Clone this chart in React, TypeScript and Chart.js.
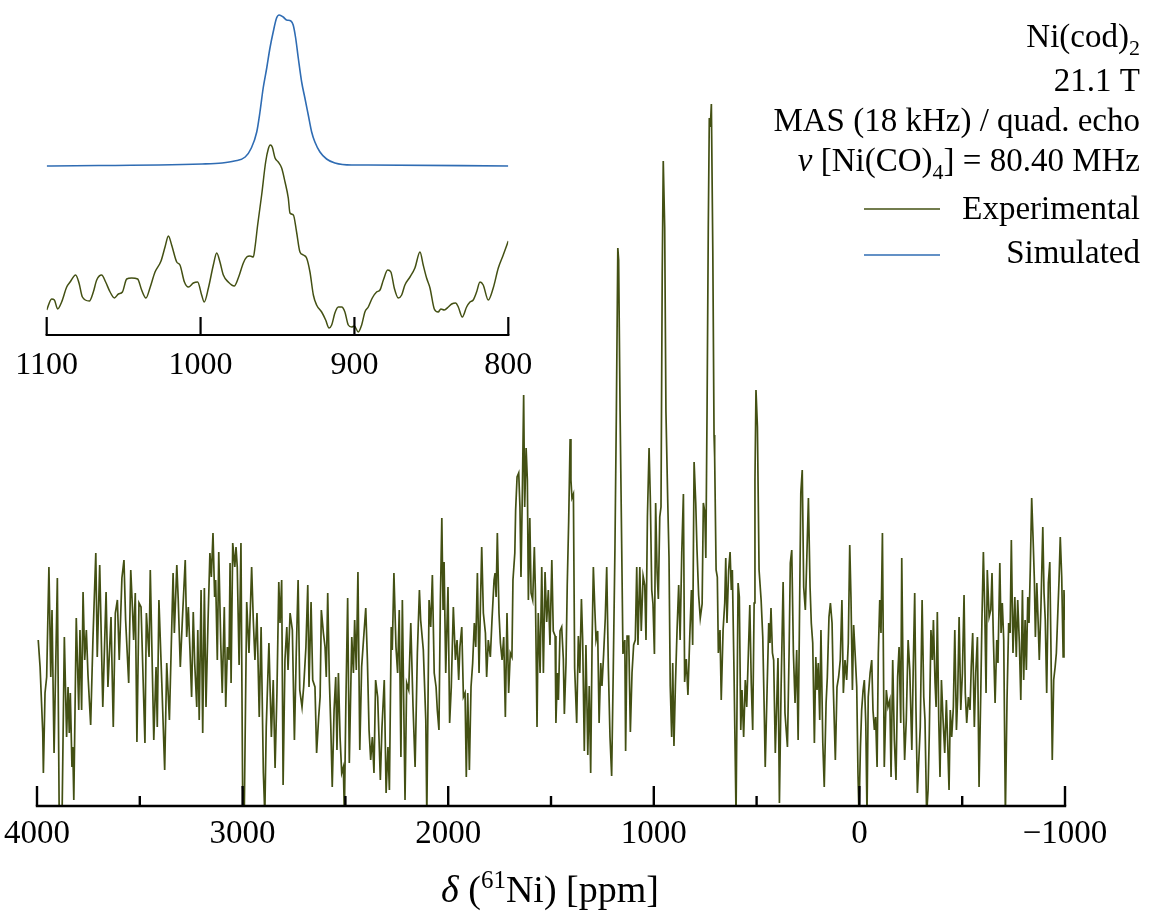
import React, { useEffect, useRef } from 'react';
import Chart from 'chart.js/auto';

const SERIF = '"Liberation Serif", "Times New Roman", Times, serif';

// Main spectrum: chemical shift (ppm) and intensity (a.u.)
const expPpm = [
  3994, 3985, 3972, 3969, 3961, 3953, 3942, 3933, 3927, 3917, 3911, 3901, 3892, 3878, 3867, 3856, 3849, 3843, 3838, 3830,
  3826, 3821, 3809, 3797, 3791, 3783, 3776, 3768, 3760, 3752, 3739, 3728, 3714, 3707, 3695, 3680, 3664, 3655, 3640, 3629,
  3619, 3609, 3600, 3587, 3577, 3569, 3554, 3544, 3536, 3530, 3522, 3514, 3504, 3494, 3475, 3468, 3455, 3449, 3439, 3432,
  3421, 3415, 3407, 3393, 3379, 3369, 3356, 3338, 3332, 3320, 3313, 3303, 3293, 3279, 3272, 3264, 3256, 3248, 3240, 3233,
  3223, 3218, 3211, 3202, 3194, 3186,
  3178, 3168, 3159, 3152, 3144, 3136, 3131, 3123, 3116, 3106, 3099, 3089, 3082, 3074, 3066, 3061, 3056, 3048, 3038, 3032,
  3026, 3017, 3008, 3000, 2992, 2980, 2969, 2956, 2948, 2940, 2930, 2919, 2910, 2899, 2892, 2885, 2872, 2860, 2851, 2842,
  2833, 2824, 2818, 2810, 2803, 2794, 2785, 2779, 2769, 2758, 2748, 2739, 2730, 2722, 2711, 2703, 2692, 2683, 2677, 2667,
  2659, 2648, 2640, 2630, 2623, 2617, 2607, 2599, 2593, 2586, 2578, 2571, 2564, 2555, 2547, 2541, 2534, 2526, 2518, 2510,
  2505, 2498, 2489, 2481, 2469, 2461, 2455, 2447, 2439, 2430, 2421, 2413, 2401, 2393, 2385, 2377, 2369, 2361, 2353, 2343,
  2330, 2322, 2311, 2302, 2293, 2286, 2277, 2272, 2264, 2254, 2246, 2238, 2230, 2223, 2210, 2202, 2192, 2182, 2171, 2161,
  2150, 2140, 2134, 2121, 2109, 2104, 2093, 2085, 2077, 2068, 2059, 2053, 2045, 2038, 2031, 2025, 2020, 2012, 2001, 1993,
  1985, 1975, 1965, 1957, 1949, 1943, 1934, 1926, 1918, 1912, 1905, 1897, 1889, 1881, 1873, 1866, 1858, 1850, 1844, 1837,
  1829, 1819, 1813, 1805, 1795, 1787, 1777, 1772, 1767, 1761, 1753, 1746, 1738, 1730, 1722, 1714, 1706, 1698, 1690, 1685,
  1676, 1672, 1665, 1657, 1651, 1646, 1639, 1633, 1628, 1621, 1615, 1610, 1603, 1597, 1589, 1581, 1576, 1568, 1562, 1553,
  1545, 1537, 1529, 1521, 1513, 1505, 1496, 1489, 1480, 1476, 1469, 1464, 1456, 1448, 1440, 1435, 1427, 1421, 1414, 1407,
  1403, 1398, 1391, 1385, 1375, 1367, 1360, 1352, 1346, 1338, 1330, 1321, 1314, 1307, 1300, 1294, 1287, 1281, 1273, 1266,
  1258, 1252, 1244, 1236, 1229, 1221, 1213, 1205, 1197, 1189, 1182, 1175, 1171, 1164, 1156, 1150, 1141, 1137, 1130, 1122,
  1114, 1106, 1098, 1090, 1083, 1077, 1068, 1061, 1052, 1044, 1038, 1031, 1023, 1017, 1010, 1004, 997, 991, 984, 978,
  971, 965, 959, 954, 947, 941, 932, 926, 920, 913, 908, 902, 895, 887, 879, 872, 864, 856, 850, 842,
  834, 825, 817, 811, 804, 796, 790, 782, 774, 765, 759, 752, 747, 741, 735, 730, 725, 720, 713, 707,
  704, 697, 691, 686, 678, 672, 663, 655, 650, 644, 636, 629, 623, 618, 610, 600, 590, 584, 577, 571,
  563, 555, 548, 540, 533, 526, 519, 512, 508, 503, 496, 488, 478, 470, 462, 458, 449, 441, 435, 430,
  423, 417, 409, 402, 396, 389, 381, 371, 362, 350, 342, 336, 329, 321, 313, 305, 298, 292, 285, 278,
  271, 263, 256, 248, 240, 234, 227, 219, 212, 206, 200, 193, 187, 178, 171, 162, 156, 148, 141, 133,
  127, 117, 109, 101, 93, 85, 78, 70, 62, 54, 47, 41, 34, 28, 20, 13, 7, 2, -5, -11,
  -18, -24, -31, -37, -43, -52, -60, -66, -73, -79, -86, -92, -99, -105, -112,
  -121, -131, -139, -148, -154, -162, -170, -178, -186, -193, -201, -206, -214, -220, -228, -237, -245, -255, -262, -269,
  -275, -282, -289, -296, -305, -313, -319, -327, -334, -340, -348, -355, -360, -368, -373, -379, -386, -392, -399, -407,
  -415, -423, -430, -436, -442, -449, -457, -464, -472, -478, -485, -493, -501, -509, -515, -522, -530, -538, -544, -551,
  -559, -566, -574, -582, -590, -596, -603, -610, -616, -622, -631, -639, -645, -651, -660, -668, -674, -683, -689, -695,
  -702, -710, -718, -726, -733, -739, -747, -756, -763, -770, -778, -785, -793, -799, -806, -812, -819, -825, -831, -838,
  -845, -851, -856, -863, -869, -875, -883, -892, -898, -904, -911, -919, -926, -932, -938, -945, -952, -958, -965, -971,
  -977, -984, -991, -995, -1000,
];
const expIntensity = [
  165, 138, 72, 32, 112, 128, 238, 128, 195, 52, 118, 227, -10, -10, 168, 68, 118, 72, 112, 38,
  58, 5, 187, 95, 175, 95, 213, 145, 175, 130, 80, 165, 252, 148, 240, 98, 213, 118, 188, 78,
  192, 205, 145, 227, 245, 185, 122, 235, 198, 165, 212, 63, 202, 198, 62, 192, 148, 235, 135, 65,
  138, 78, 205, 122, 35, 142, 85, 232, 172, 240, 205, 138, 185, 245, 168, 198, 155, 108, 193, 142,
  98, 175, 85, 215, 72, 217,
  98, 185, 252, 228, 272, 208, 225, 145, 253, 160, 112, 198, 98, 158, 145, 242, 122, 262, 238, 258,
  238, 140, 262, 18, -10, 203, 152, 238, 185, 145, 192, 88, 178, 32, -10, 78, 162, 68, 125, 37,
  112, 223, 182, 225, 20, 145, 178, 135, 192, 175, 65, 152, 225, 115, 98, 118, 158, 220, 118, 203,
  125, 118, 52, 88, 108, 195, 172, 158, 128, 212, 125, 78, 18, 95, 128, 55, 132, 68, 32, 38,
  -10, 98, 207, 42, 168, 132, 185, 135, 233, 55, 138, 162, 197, 145, 75, 45, 68, 32, 125, 108,
  25, 78, 125, 12, 58, 15, 178, 155, 232, 158, 132, 195, 48, 205, 5, 122, 115, 182, 98, 38,
  152, 215, 185, 155, 85, -10, 205, 178, 230, 132, 118, 95, 75, 205, 287, 195, 243, 132, 218, 82,
  118, 198, 145, 165, 125, 158, 178, 108, 112, 28, 112, 35, 118, 142, 182, 158, 232, 132, 192, 258,
  192, 172, 128, 165, 148, 185, 225, 232, 208, 272, 192, 162, 145, 168, 88, 192, 112, 152, 148, 225,
  252, 295, 328, 332, 298, 228, 318, 410, 298, 357, 325, 205, 287, 212, 205, 258, 215, 78, 192, 132,
  238, 132, 233, 183, 215, 160, 245, 174, 169, 82, 132, 105, 174, 178, 146, 91, 142, 220, 284, 366,
  325, 307, 311, 137, 82, 169, 132, 206, 165, 54, 160, 50, 119, 32, 165, 238, 197, 165, 174, 82,
  142, 119, 151, 187, 238, 137, 68, 29, 137, 256, 394, 557, 545, 394, 256, 151, 165, 54, 169, 169,
  73, 132, 160, 165, 238, 160, 238, 174, 229, 220, 165, 288, 357, 307, 215, 201, 151, 302, 233, 206,
  288, 298, 532, 644, 577, 394, 302, 247, 119, 68, 142, 59, 119, 174, 220, 165, 252, 311, 123, 146,
  110, 169, 215, 160, 343, 302, 256, 210, 187, 201, 302, 293, 247, 394, 577, 687, 678, 701, 554, 370,
  348, 235, 228, 152, 175, 105, 175, 202, 247, 182, 235, 253, 215, 235, 135, -10, 222, 208, 75, 115,
  68, 125, 98, 152, 200, 122, 75, 202, 325, 415, 378, 235, 205, 168, 85, 38, 115, 182, 162, 197,
  152, 145, 52, 102, 147, 2, 115, 223, 92, 58, 152, 242, 255, 152, 102, 155, 65, 175, 312, 335,
  218, 195, 245, 307, 218, 182, 162, 62, 148, 115, 142, 85, 175, 62, 18, 102, 128, 188, 202, 182,
  118, 45, 118, 128, 145, 205, 112, 145, 125, 162, 260, 208, 115, 180, 148, 118, 32, -10, 58, 95,
  115, 125, 82, -10, 108, 132, 145, 95, 75, 88, 38, 152, 205, 172, 272,
  38, 115, 98, 105, 28, 145, 65, 25, 128, 158, 82, 247, 98, 45, 85, 165, 135, 55, 138, 212,
  98, 12, 45, 78, 205, 108, 85, -10, 15, 72, 175, 145, 185, 122, 98, 193, 85, 28, 125, 85,
  52, 105, 58, 15, 95, 68, 98, 175, 75, 108, 188, 95, 132, 210, 112, 82, 108, 95, 138, 172,
  78, 132, 168, 18, 108, 185, 253, 192, 112, 235, 188, 195, 232, 172, 102, 165, 142, 242, 172, 202,
  165, -10, 105, 182, 172, 265, 152, 208, 148, 205, 162, 105, 215, 125, 185, 135, 208, 182, 235, 307,
  265, 225, 168, 222, 185, 145, 198, 278, 212, 185, 112, 222, 243, 152, 45, 125, 138, 152, 192, 225,
  268, 228, 148, 215, 185,
];

// Inset (800–1100 ppm): experimental and simulated
const insetExpPpm = [
  1100, 1096.8, 1095, 1092.9, 1090.3, 1087, 1084.8, 1081.2, 1079, 1076.8, 1072.3, 1069.7, 1067.5, 1064.3, 1061.7,
  1058.8, 1056, 1053.4, 1050.8, 1048, 1044.8, 1040.9, 1038.3, 1035.5, 1032.9, 1029.6, 1025.7, 1023.1, 1020.9, 1018.8,
  1015.5, 1013.4, 1010.5, 1007.9, 1004.7, 1001.9, 999.3, 997.6, 994.9, 991.7, 989.5, 987.4, 985.2, 982, 978.1,
  975.5, 972.2, 970, 967.9, 965.7, 964.6, 962.9, 960.3, 957.7, 956, 954.7, 953.4, 951.6, 949.5, 947.3,
  945.1, 943, 941.9, 939.7, 937.6, 935.4, 933.2, 931.1, 928.9, 926.7, 924.6, 921.3, 918.7, 916.5, 914.8,
  912.7, 910.5, 908.3, 906.2, 904, 901.8, 900.1, 897.5, 895.3, 893.2, 891, 888.4, 885.6, 883.4, 881.2,
  878.4, 876.3, 874.1, 871.5, 869.3, 867.2, 863.9, 860.7, 857.4, 855.3, 853.1, 850.9, 848.1, 845.6, 843.8,
  841.6, 839, 836.8, 834.2, 832.5, 829.9, 827.1, 824.9, 822.8, 820.6, 818.4, 816.3, 813, 809.8, 806.5,
  803.3, 800,
];
const insetExpIntensity = [
  25, 36, 35, 26, 33, 48, 53, 60, 52, 38, 34, 43, 55, 60, 53,
  43, 37, 41, 43, 56, 57, 56, 45, 37, 47, 63, 74, 88, 99, 90,
  73, 70, 53, 48, 52, 53, 40, 33, 47, 70, 82, 73, 60, 53, 49,
  57, 72, 78, 79, 78, 88, 110, 140, 173, 186, 190, 188, 177, 173, 167,
  153, 137, 122, 120, 103, 83, 80, 77, 63, 40, 30, 23, 15, 7, 10,
  22, 28, 28, 23, 10, 8, 9, 3, 10, 23, 28, 37, 43, 45, 55,
  65, 63, 47, 37, 40, 50, 58, 67, 83, 70, 57, 47, 26, 23, 26,
  25, 28, 31, 32, 28, 18, 28, 33, 35, 43, 53, 50, 35, 47, 67,
  80, 94,
];
const simPpm = [
  1100, 999, 986, 978, 971, 967, 963.5, 961.4, 959.3, 957, 954.9, 952.8, 950.6, 948.9, 946.3,
  944.1, 941.3, 939.8, 938.2, 936.5, 934.3, 932.2, 930, 927.8, 925.7, 922.4, 918.1, 912.7, 901.8, 891, 800,
];
const simIntensity = [
  169, 171, 172, 174, 178, 187, 203, 223, 247, 267, 287, 303, 317, 320, 318,
  315, 314, 310, 297, 277, 253, 237, 220, 203, 193, 183, 176, 172, 170, 170, 169,
];

const mainTickValues = [4000, 3000, 2000, 1000, 0, -1000];
const mainMinorTicks = [3500, 2500, 1500, 500, -500];
const insetTickValues = [1100, 1000, 900, 800];

const seriesLabels = ['Experimental', 'Simulated'];
const seriesColors = ['#435013', '#2f6cb3'];

type Seg = { text: string; size: number; italic?: boolean; dy?: number };

const infoLines: Seg[][] = [
  [{ text: 'Ni(cod)', size: 33 }, { text: '2', size: 22, dy: 8 }],
  [{ text: '21.1 T', size: 33 }],
  [{ text: 'MAS (18 kHz) / quad. echo', size: 33 }],
  [
    { text: 'ν', size: 33, italic: true },
    { text: ' [Ni(CO)', size: 33 },
    { text: '4', size: 22, dy: 8 },
    { text: '] = 80.40 MHz', size: 33 },
  ],
];
const axisTitle: Seg[] = [
  { text: 'δ', size: 38, italic: true },
  { text: ' (', size: 38 },
  { text: '61', size: 25, dy: -14 },
  { text: 'Ni) [ppm]', size: 38 },
];

function fontOf(s: Seg) {
  return `${s.italic ? 'italic ' : ''}${s.size}px ${SERIF}`;
}

function drawRich(ctx: CanvasRenderingContext2D, segs: Seg[], x: number, y: number, align: 'right' | 'center') {
  let total = 0;
  const widths: number[] = [];
  for (const s of segs) {
    ctx.font = fontOf(s);
    const w = ctx.measureText(s.text).width;
    widths.push(w);
    total += w;
  }
  let cx = align === 'right' ? x - total : x - total / 2;
  ctx.textAlign = 'left';
  ctx.textBaseline = 'alphabetic';
  segs.forEach((s, i) => {
    ctx.font = fontOf(s);
    ctx.fillText(s.text, cx, y + (s.dy || 0));
    cx += widths[i];
  });
}

function fmtTick(v: number) {
  return v < 0 ? '\u2212' + Math.abs(v) : String(v);
}

const mainDecor = {
  id: 'mainDecor',
  afterDatasetsDraw(chart: any) {
    const { ctx, chartArea } = chart;
    const x = chart.scales.x;
    const yA = chartArea.bottom + 1;
    ctx.save();
    ctx.strokeStyle = '#000';
    ctx.lineWidth = 2.4;
    ctx.beginPath();
    ctx.moveTo(x.getPixelForValue(4000) - 1.2, yA);
    ctx.lineTo(x.getPixelForValue(-1000) + 1.2, yA);
    ctx.stroke();
    for (const v of mainTickValues) {
      const px = x.getPixelForValue(v);
      ctx.beginPath();
      ctx.moveTo(px, yA);
      ctx.lineTo(px, yA - 20);
      ctx.stroke();
    }
    for (const v of mainMinorTicks) {
      const px = x.getPixelForValue(v);
      ctx.beginPath();
      ctx.moveTo(px, yA);
      ctx.lineTo(px, yA - 10);
      ctx.stroke();
    }
    ctx.restore();
  },
  afterDraw(chart: any) {
    const { ctx } = chart;
    ctx.save();
    ctx.fillStyle = '#000';
    const baselines = [47, 91, 131, 171];
    infoLines.forEach((segs, i) => drawRich(ctx, segs, 1140, baselines[i], 'right'));
    const legY = [209, 255];
    const legText = [219, 263];
    seriesLabels.forEach((lab, i) => {
      ctx.strokeStyle = seriesColors[i];
      ctx.lineWidth = 1.5;
      ctx.beginPath();
      ctx.moveTo(864, legY[i]);
      ctx.lineTo(940, legY[i]);
      ctx.stroke();
      ctx.fillStyle = '#000';
      drawRich(ctx, [{ text: lab, size: 33 }], 1140, legText[i], 'right');
    });
    drawRich(ctx, axisTitle, 550, 902, 'center');
    ctx.restore();
  },
};

const insetDecor = {
  id: 'insetDecor',
  afterDatasetsDraw(chart: any) {
    const { ctx, chartArea } = chart;
    const x = chart.scales.x;
    const yA = chartArea.bottom;
    ctx.save();
    ctx.strokeStyle = '#000';
    ctx.lineWidth = 2.2;
    ctx.beginPath();
    ctx.moveTo(x.getPixelForValue(1100) - 1.1, yA);
    ctx.lineTo(x.getPixelForValue(800) + 1.1, yA);
    ctx.stroke();
    for (const v of insetTickValues) {
      const px = x.getPixelForValue(v);
      ctx.beginPath();
      ctx.moveTo(px, yA);
      ctx.lineTo(px, yA - 18);
      ctx.stroke();
    }
    ctx.restore();
  },
};

export default function App() {
  const mainRef = useRef<HTMLCanvasElement>(null);
  const insetRef = useRef<HTMLCanvasElement>(null);

  useEffect(() => {
    const main = new Chart(mainRef.current as HTMLCanvasElement, {
      type: 'line',
      data: {
        datasets: [
          {
            label: seriesLabels[0],
            data: expPpm.map((p, i) => ({ x: p, y: expIntensity[i] })),
            borderColor: seriesColors[0],
            borderWidth: 1.7,
            pointRadius: 0,
            tension: 0,
            fill: false,
          },
        ],
      },
      options: {
        animation: false,
        responsive: false,
        devicePixelRatio: 1,
        layout: { padding: { left: 37, right: 88, top: 5, bottom: 0 } },
        plugins: { legend: { display: false }, tooltip: { enabled: false } },
        scales: {
          x: {
            type: 'linear',
            reverse: true,
            min: -1000,
            max: 4000,
            afterFit: (s: any) => {
              s.height = 115;
              s.paddingLeft = 0;
              s.paddingRight = 0;
            },
            afterBuildTicks: (s: any) => {
              s.ticks = mainTickValues.map((v) => ({ value: v }));
            },
            ticks: {
              callback: (v: any) => fmtTick(Number(v)),
              font: { family: SERIF, size: 33 },
              color: '#000',
              padding: 10,
              maxRotation: 0,
              autoSkip: false,
            },
            grid: { display: false, drawTicks: false },
            border: { display: false },
          },
          y: { display: false, min: 0, max: 800 },
        },
      },
      plugins: [mainDecor],
    } as any);

    const inset = new Chart(insetRef.current as HTMLCanvasElement, {
      type: 'line',
      data: {
        datasets: [
          {
            label: seriesLabels[1],
            data: simPpm.map((p, i) => ({ x: p, y: simIntensity[i] })),
            borderColor: seriesColors[1],
            borderWidth: 1.6,
            pointRadius: 0,
            cubicInterpolationMode: 'monotone',
            fill: false,
          },
          {
            label: seriesLabels[0],
            data: insetExpPpm.map((p, i) => ({ x: p, y: insetExpIntensity[i] })),
            borderColor: seriesColors[0],
            borderWidth: 1.5,
            pointRadius: 0,
            cubicInterpolationMode: 'monotone',
            fill: false,
          },
        ],
      },
      options: {
        animation: false,
        responsive: false,
        devicePixelRatio: 1,
        layout: { padding: { left: 46.7, right: 51.7, top: 5, bottom: 0 } },
        plugins: { legend: { display: false }, tooltip: { enabled: false } },
        scales: {
          x: {
            type: 'linear',
            reverse: true,
            min: 800,
            max: 1100,
            afterFit: (s: any) => {
              s.height = 65;
              s.paddingLeft = 0;
              s.paddingRight = 0;
            },
            afterBuildTicks: (s: any) => {
              s.ticks = insetTickValues.map((v) => ({ value: v }));
            },
            ticks: {
              callback: (v: any) => fmtTick(Number(v)),
              font: { family: SERIF, size: 32 },
              color: '#000',
              padding: 11,
              maxRotation: 0,
              autoSkip: false,
            },
            grid: { display: false, drawTicks: false },
            border: { display: false },
          },
          y: { display: false, min: 0, max: 330 },
        },
      },
      plugins: [insetDecor],
    } as any);

    return () => {
      main.destroy();
      inset.destroy();
    };
  }, []);

  return (
    <div style={{ position: 'absolute', left: 0, top: 0, width: 1153, height: 920, background: '#fff' }}>
      <canvas ref={mainRef} width={1153} height={920} style={{ position: 'absolute', left: 0, top: 0 }} />
      <canvas ref={insetRef} width={560} height={400} style={{ position: 'absolute', left: 0, top: 0 }} />
    </div>
  );
}
